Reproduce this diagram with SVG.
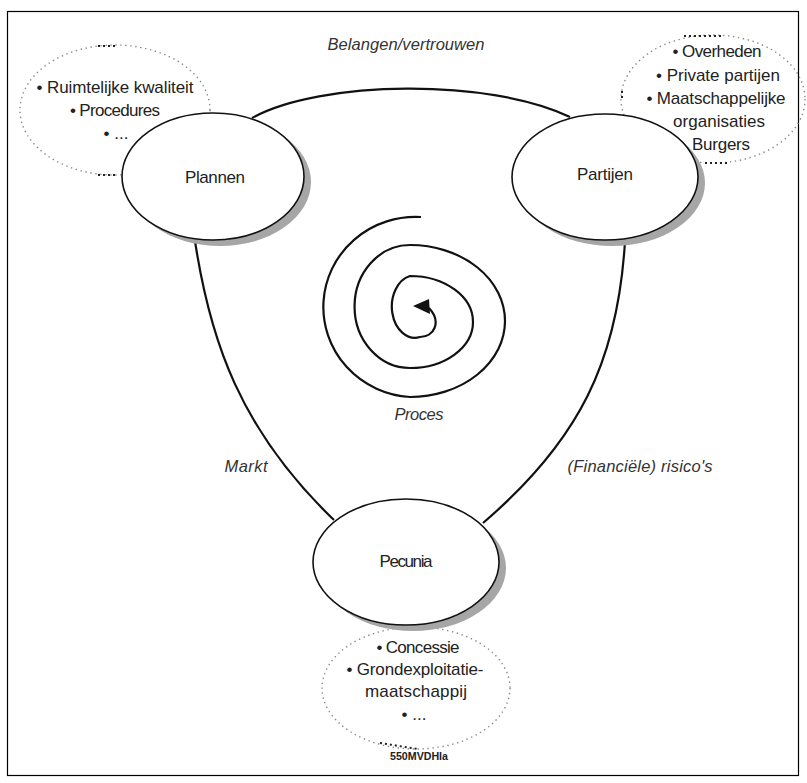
<svg xmlns="http://www.w3.org/2000/svg" width="807" height="783" viewBox="0 0 807 783">
<style>
.t{font-family:"Liberation Sans",Arial,sans-serif;font-size:17px;fill:#222;text-anchor:middle}
.i{font-family:"Liberation Sans",Arial,sans-serif;font-size:16.5px;font-style:italic;fill:#333;text-anchor:middle}
.node{fill:#fff;stroke:#111;stroke-width:1.6}
.shadow{fill:#a6a6a6;stroke:none}
.dot{fill:none;stroke:#8a8a8a;stroke-width:1.4;stroke-dasharray:1.4 3.6}
.dk{fill:none;stroke:#222;stroke-width:2;stroke-dasharray:2 3}
.conn{fill:none;stroke:#111;stroke-width:2.2}
</style>
<rect x="7.5" y="11.5" width="791" height="764" fill="#fff" stroke="#000" stroke-width="1.2"/>

<g id="note-plannen">
<ellipse class="dot" cx="115" cy="110" rx="95" ry="65"/>
<path class="dk" d="M98,46 L116,46"/>
<path class="dk" d="M98,175 L118,175"/>
<text class="t" x="115" y="93" textLength="157" lengthAdjust="spacing">• Ruimtelijke kwaliteit</text>
<text class="t" x="115" y="116" textLength="90" lengthAdjust="spacing">• Procedures</text>
<text class="t" x="116" y="139">• ...</text>
</g>

<g id="note-partijen">
<ellipse class="dot" cx="713" cy="99" rx="92" ry="64"/>
<path class="dk" d="M684,36 L722,36"/>
<path class="dk" d="M705,163 L728,163"/>
<path class="dk" d="M622,91 L622,99"/>
<text class="t" x="717" y="57" textLength="89" lengthAdjust="spacing">•  Overheden</text>
<text class="t" x="718" y="81" textLength="124" lengthAdjust="spacing">• Private partijen</text>
<text class="t" x="716" y="104" textLength="139" lengthAdjust="spacing">• Maatschappelijke</text>
<text class="t" x="719" y="127" textLength="92" lengthAdjust="spacing">organisaties</text>
<text class="t" x="721" y="150" textLength="58" lengthAdjust="spacing">Burgers</text>
</g>

<g id="note-pecunia">
<ellipse class="dot" cx="416" cy="688" rx="94" ry="61"/>
<path class="dk" d="M380,743 L418,749"/>
<text class="t" x="418" y="653" textLength="83" lengthAdjust="spacing">• Concessie</text>
<text class="t" x="415" y="675" textLength="137" lengthAdjust="spacing">• Grondexploitatie-</text>
<text class="t" x="416" y="697" textLength="102" lengthAdjust="spacing">maatschappij</text>
<text class="t" x="414" y="720">• ...</text>
<text x="419" y="760" font-family="Liberation Sans,Arial,sans-serif" font-size="10" font-weight="bold" fill="#222" text-anchor="middle" textLength="58" lengthAdjust="spacingAndGlyphs">550MVDHIa</text>
</g>

<g id="connectors">
<path class="conn" d="M252,118 C320,80 490,78 570,117"/>
<path class="conn" d="M195,241 C210,340 240,430 334,520"/>
<path class="conn" d="M625,241 C618,360 580,440 483,523"/>
<path class="conn" d="M421,217 A92 90 0 0 0 410,397 A95 76 0 0 0 410,245 A55 61 0 0 0 410,368 A63 46 0 0 0 410,276 A23 31 0 0 0 420,337 C434,337 442,322 429,308"/>
<polygon points="413,306 429,299 430,314" fill="#111"/>
</g>

<g id="node-plannen">
<ellipse class="shadow" cx="220" cy="182" rx="91" ry="64"/>
<ellipse class="node" cx="213" cy="176.5" rx="91" ry="63.5"/>
<text class="t" x="215" y="183" textLength="60" lengthAdjust="spacing">Plannen</text>
</g>

<g id="node-partijen">
<ellipse class="shadow" cx="612" cy="183" rx="93" ry="63"/>
<ellipse class="node" cx="605" cy="177" rx="93" ry="63"/>
<text class="t" x="605" y="180" textLength="56" lengthAdjust="spacing">Partijen</text>
</g>

<g id="node-pecunia">
<ellipse class="shadow" cx="413" cy="568" rx="93" ry="63"/>
<ellipse class="node" cx="406" cy="562" rx="93" ry="63"/>
<text class="t" x="406" y="567" textLength="53" lengthAdjust="spacing">Pecunia</text>
</g>

<g id="labels">
<text class="i" x="406" y="50" textLength="157" lengthAdjust="spacing">Belangen/vertrouwen</text>
<text class="i" x="419" y="420" textLength="49" lengthAdjust="spacing">Proces</text>
<text class="i" x="246" y="472" textLength="43" lengthAdjust="spacing">Markt</text>
<text class="i" x="640" y="472" textLength="145" lengthAdjust="spacing">(Financiële) risico's</text>
</g>
</svg>
